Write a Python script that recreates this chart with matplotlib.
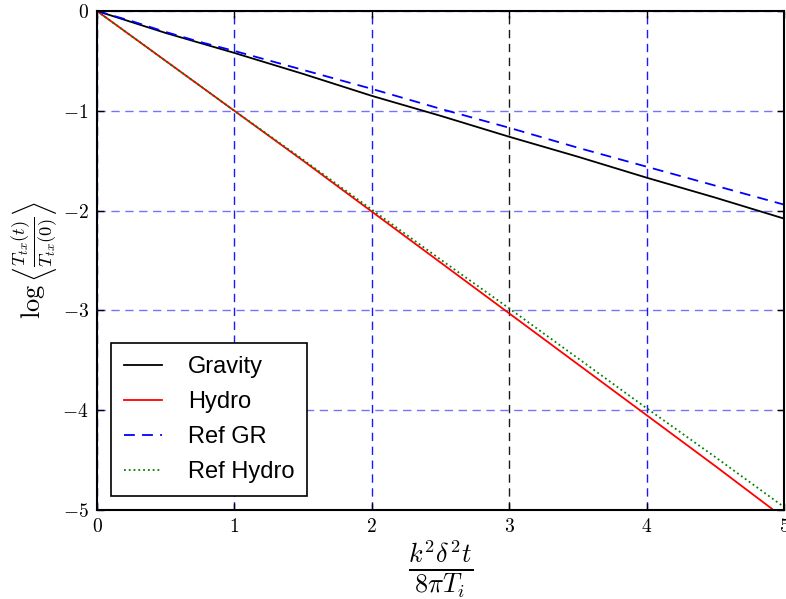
import numpy as np
import matplotlib
matplotlib.use("Agg")
from matplotlib import pyplot as plt

plt.rcParams['mathtext.fontset'] = 'cm'
plt.rcParams['font.family'] = ['Liberation Sans', 'DejaVu Sans']

# decay of the tx stress component vs scaled time
t = [0, 0.25, 0.5, 0.75, 1, 1.5, 2, 2.5, 3, 3.5, 4, 4.5, 5]
gravity = [0, -0.11, -0.22, -0.32, -0.42, -0.63, -0.85, -1.05, -1.26, -1.46, -1.67, -1.87, -2.08]
hydro = [0, -0.25, -0.5, -0.75, -1.0, -1.5, -2.01, -2.52, -3.03, -3.54, -4.05, -4.56, -5.08]
ref_gr = [0, -0.10, -0.21, -0.31, -0.40, -0.59, -0.78, -0.98, -1.17, -1.37, -1.56, -1.75, -1.94]
ref_hydro = [0, -0.25, -0.5, -0.75, -1.0, -1.49, -1.99, -2.49, -2.98, -3.48, -3.98, -4.47, -4.97]

xticks = [0, 1, 2, 3, 4, 5]
yticks = [0, -1, -2, -3, -4, -5]

fig = plt.figure(figsize=(7.86, 5.99), dpi=100)
ax = fig.add_axes([0.1234, 0.1486, 0.8741, 0.833])

ax.plot(t, gravity, 'k-', lw=1.3, label='Gravity')
ax.plot(t, hydro, 'r-', lw=1.3, label='Hydro')
ax.plot(t, ref_gr, 'b--', lw=1.3, dashes=(6, 4), label='Ref GR')
ax.plot(t, ref_hydro, 'g:', lw=1.3, label='Ref Hydro')

ax.set_xlim(0, 5)
ax.set_ylim(-5, 0)
ax.set_xticks(xticks)
ax.set_yticks(yticks)
ax.set_xticklabels(['$%d$' % v for v in xticks], fontsize=14)
ax.set_yticklabels(['$%d$' % v for v in yticks], fontsize=14)
ax.tick_params(direction='in', top=True, right=True, length=5, width=1, pad=6)
for s in ax.spines.values():
    s.set_linewidth(1.5)

ax.grid(True, color='b', linestyle='--', lw=1, dashes=(6, 4))
for g in ax.get_ygridlines():
    g.set_alpha(0.55)
for i, g in enumerate(ax.get_xgridlines()):
    g.set_alpha(0.9)
    if i == 3:
        g.set_color('k')

ax.set_xlabel(r'$\frac{k^2\delta^2 t}{8\pi T_i}$', fontsize=27, labelpad=2)
ax.set_ylabel(r'$\log\left\langle\frac{T_{tx}(t)}{T_{tx}(0)}\right\rangle$', fontsize=19, labelpad=2)

leg = ax.legend(loc='lower left', fontsize=17, handlelength=1.6, fancybox=False,
                framealpha=1, edgecolor='k', borderaxespad=0.6, borderpad=0.55,
                labelspacing=0.55, handletextpad=1.1)
leg.get_frame().set_linewidth(1.2)

plt.savefig('out.png', dpi=100)
